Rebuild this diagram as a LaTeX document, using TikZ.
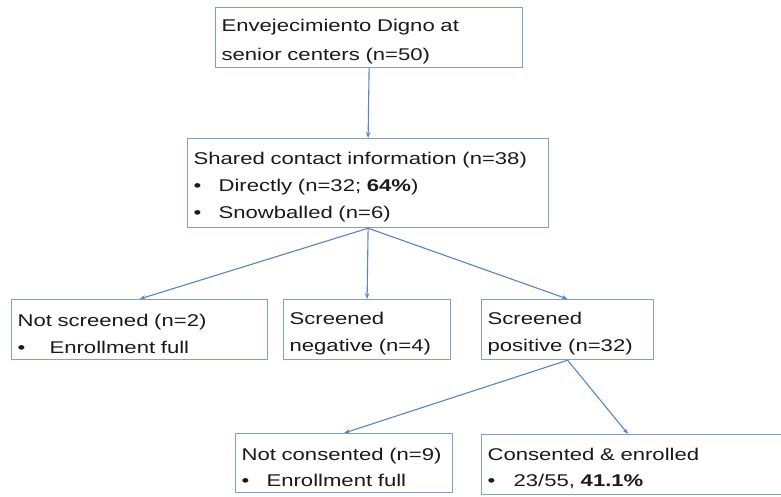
\documentclass[tikz,border=0pt]{standalone}
\usepackage{fontspec}
\setmainfont{Liberation Sans}[FakeStretch=1.3]
\usetikzlibrary{arrows.meta,calc}
\definecolor{boxc}{HTML}{7F9FD3}
\definecolor{linec}{HTML}{5B84C0}
\definecolor{txt}{HTML}{1A1A1A}
\newcommand{\bitem}[2]{\makebox[#1][l]{•}#2}
\newcommand{\fst}{\rule{0pt}{20pt}}
\tikzset{
  box/.style={draw=boxc, line width=1.2pt, anchor=north west, inner xsep=6pt,
    inner ysep=0pt, align=left, text=txt},
  ls29/.style={font=\fontsize{17}{29}\selectfont},
  ls27/.style={font=\fontsize{17}{27}\selectfont},
  ls26/.style={font=\fontsize{17}{26}\selectfont},
  conn/.style={draw=linec, line width=1.1pt, -{Stealth[length=6pt,width=4.5pt]}}
}
\begin{document}
\begin{tikzpicture}[x=1pt,y=-1pt]
\fill[white] (0,0) rectangle (781,496);
\useasboundingbox (0,0) rectangle (781,496);

\node[box,ls29,text width=295pt,minimum height=60pt] (A) at (215,7)
  {\fst Envejecimiento Digno at\\senior centers (n=50)};
\node[box,ls27,text width=349pt,minimum height=89pt] (B) at (187,138)
  {\fst Shared contact information (n=38)\\\bitem{25pt}{Directly (n=32; \textbf{64\%})}\\\bitem{25pt}{Snowballed (n=6)}};
\node[box,ls27,text width=244pt,minimum height=60pt] (C1) at (11,299)
  {\fst Not screened (n=2)\\\bitem{32pt}{Enrollment full}};
\node[box,ls27,text width=155pt,minimum height=60pt] (C2) at (283,299)
  {\fst Screened\\negative (n=4)};
\node[box,ls27,text width=160pt,minimum height=60pt] (C3) at (481,299)
  {\fst Screened\\positive (n=32)};
\node[box,ls26,text width=205pt,minimum height=59pt] (D1) at (235,433)
  {\fst Not consented (n=9)\\\bitem{25pt}{Enrollment full}};
\node[box,ls26,text width=298pt,minimum height=60pt] (D2) at (481,434)
  {\fst Consented \& enrolled\\\bitem{26pt}{23/55, \textbf{41.1\%}}};
\coordinate (D2in) at ($(D2.north west)+(147,0)$);

\draw[conn] (A.south) -- (B.north);
\draw[conn] (B.south) -- (C1.north);
\draw[conn] (B.south) -- (C2.north);
\draw[conn] (B.south) -- (C3.north);
\draw[conn] (C3.south) -- (D1.north);
\draw[conn] (C3.south) -- (D2in);
\end{tikzpicture}
\end{document}
